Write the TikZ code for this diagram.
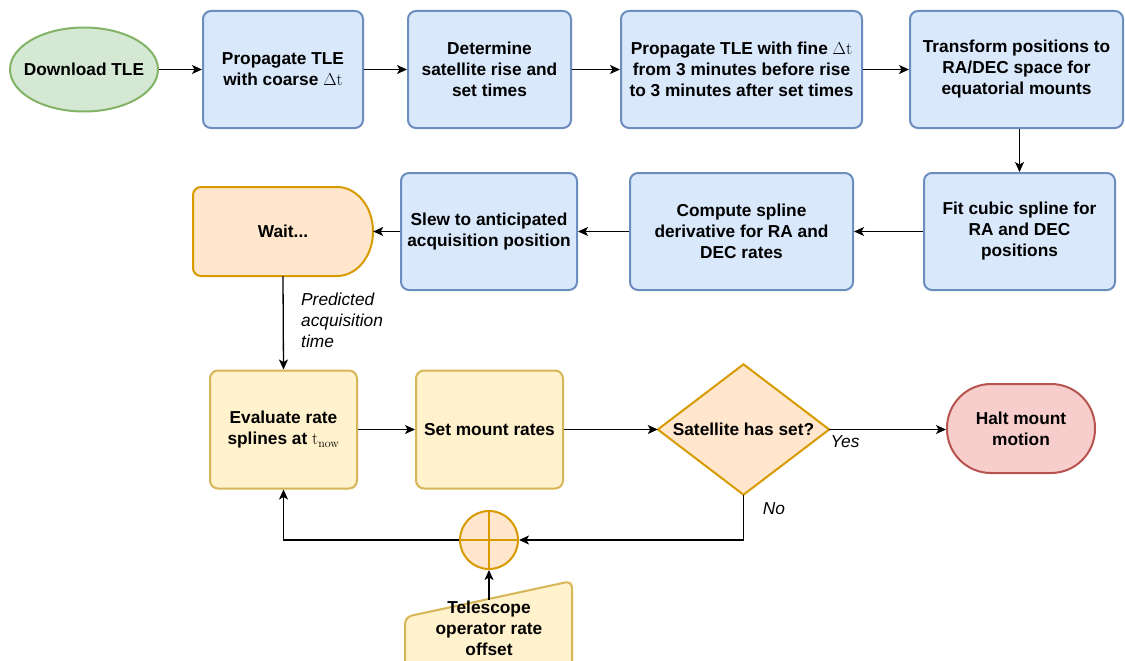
\documentclass[tikz,border=0pt]{standalone}
\usepackage[no-math]{fontspec}
\setmainfont{Liberation Sans}
\usetikzlibrary{arrows.meta,shapes.geometric}
\definecolor{bluef}{HTML}{DAE8FC}\definecolor{blued}{HTML}{6C8EBF}
\definecolor{greenf}{HTML}{D5E8D4}\definecolor{greend}{HTML}{82B366}
\definecolor{orangef}{HTML}{FFE6CC}\definecolor{oranged}{HTML}{D79B00}
\definecolor{yellowf}{HTML}{FFF2CC}\definecolor{yellowd}{HTML}{D6B656}
\definecolor{redf}{HTML}{F8CECC}\definecolor{redd}{HTML}{B85450}
\begin{document}
\fontsize{17.3}{21}\selectfont
\begin{tikzpicture}[x=1pt,y=-1pt,
  base/.style={line width=2pt, align=center, inner sep=0pt, font=\bfseries},
  bluebox/.style={base, draw=blued, fill=bluef, rounded corners=8pt},
  yellowbox/.style={base, draw=yellowd, fill=yellowf, rounded corners=8pt},
  orangeshape/.style={line width=2pt, draw=oranged, fill=orangef},
  plain/.style={align=center, inner sep=0pt, font=\bfseries},
  lbl/.style={align=left, inner sep=0pt, font=\itshape},
  arr/.style={-{Stealth[length=10pt,width=9pt,inset=2.5pt]}, line width=1.3pt}]
\useasboundingbox (0,0) rectangle (1125,661);
\fill[white] (0,0) rectangle (1125,661);

% row 1
\node[ellipse, line width=2pt, draw=greend, fill=greenf, minimum width=148pt, minimum height=84pt, inner sep=0pt] (dl) at (84,69.5) {};
\node[plain] at (dl.center) {Download TLE};
\node[bluebox, minimum width=160pt, minimum height=117pt] (p1) at (283,69.5) {Propagate TLE\\with coarse $\Delta\mathrm{t}$};
\node[bluebox, minimum width=163pt, minimum height=117pt] (det) at (489.5,69.5) {Determine\\satellite rise and\\set times};
\node[bluebox, minimum width=241pt, minimum height=117pt] (fine) at (741.5,69.5) {Propagate TLE with fine $\Delta\mathrm{t}$\\from 3 minutes before rise\\to 3 minutes after set times};
\node[bluebox, minimum width=213pt, minimum height=117pt] (tr) at (1016.5,69.5) {Transform positions to\\RA/DEC space for\\equatorial mounts};

% row 2
\node[bluebox, minimum width=191pt, minimum height=117pt] (fit) at (1019.5,231.5) {Fit cubic spline for\\RA and DEC\\positions};
\node[bluebox, minimum width=223pt, minimum height=117pt] (comp) at (741.5,231.5) {Compute spline\\derivative for RA and\\DEC rates};
\node[bluebox, minimum width=176pt, minimum height=117pt] (slew) at (489,231.5) {Slew to anticipated\\acquisition position};
\node[plain, minimum width=180pt, minimum height=89pt] (wait) at (283,231.5) {};
\draw[orangeshape] (337,187) [rounded corners=8pt] -- (193,187) -- (193,276) [sharp corners] -- (337,276)
  arc[start angle=-90, end angle=90, x radius=36pt, y radius=44.5pt] -- cycle;
\node[plain] at (wait.center) {Wait...};

% row 3
\node[yellowbox, minimum width=147pt, minimum height=118pt] (eval) at (283.5,429.5) {Evaluate rate\\splines at $\mathrm{t}_{\mathrm{now}}$};
\node[yellowbox, minimum width=147pt, minimum height=118pt] (set) at (489.5,429.5) {Set mount rates};
\node[plain, minimum width=171pt, minimum height=130pt] (dia) at (743.5,429.5) {};
\draw[orangeshape] (dia.west) -- (dia.north) -- (dia.east) -- (dia.south) -- cycle;
\node[plain] at (dia.center) {Satellite has set?};
\node[base, draw=redd, fill=redf, rounded corners=44pt, minimum width=148pt, minimum height=89pt] (halt) at (1021,428.5) {Halt mount\\motion};

% summing junction and operator input
\node[circle, orangeshape, minimum size=58pt, inner sep=0pt] (sum) at (489,540) {};
\draw[line width=2pt, draw=oranged] (sum.north) -- (sum.south) (sum.west) -- (sum.east);
\fill[yellowf] (405,668) -- (405,617) -- (572,581) -- (572,668) -- cycle;
\draw[line width=2pt, draw=yellowd, rounded corners=7pt] (405,668) -- (405,617) -- (572,581) -- (572,668);
\node[plain] (op) at (489,628) {Telescope\\operator rate\\offset};
\coordinate (optop) at (489,600);

% connectors
\draw[arr] (dl.east) -- (p1.west);
\draw[arr] (p1.east) -- (det.west);
\draw[arr] (det.east) -- (fine.west);
\draw[arr] (fine.east) -- (tr.west);
\draw[arr] (fit.north |- tr.south) -- (fit.north);
\draw[arr] (fit.west) -- (comp.east);
\draw[arr] (comp.west) -- (slew.east);
\draw[arr] (slew.west) -- (wait.east);
\draw[arr] (wait.south) -- (eval.north);
\node[lbl, anchor=north west] at (301,293) {Predicted\\acquisition\\time};
\draw[arr] (eval.east) -- (set.west);
\draw[arr] (set.east) -- (dia.west);
\draw[arr] (dia.east) -- (dia.east -| halt.west);
\node[lbl] at (845,442) {Yes};
\draw[arr] (dia.south) |- (sum.east);
\node[lbl] at (774,509) {No};
\draw[arr] (sum.west) -| (eval.south);
\draw[arr] (optop) -- (sum.south);
\end{tikzpicture}
\end{document}
